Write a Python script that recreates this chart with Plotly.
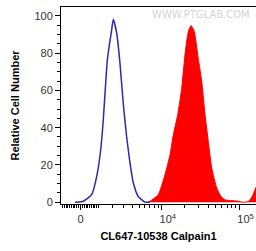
import math
import plotly.graph_objects as go

# Display scale: u = log-decade display units (10^4 -> 4, 10^5 -> 5); "0" sits at u0
u_zero = 2.956
x_range = [2.706, 5.212]
y_range = [-1, 104.8]

# Unstained control (blue line)
control_x = [2.886, 2.907, 2.992, 3.100, 3.165, 3.216, 3.249, 3.271, 3.301, 3.326, 3.352,
             3.378, 3.422, 3.464, 3.506, 3.550, 3.593, 3.635, 3.699, 3.785, 3.850]
control_y = [0, 0, 0.5, 4, 13.8, 28, 44, 58, 76, 84, 91,
             98.2, 90.7, 74.6, 53, 35, 21, 10.4, 3, 0, 0]

# CL647-10538 Calpain1 stained (red filled)
stained_x = [3.824, 3.850, 3.956, 4.042, 4.107, 4.149, 4.206, 4.257, 4.299, 4.342, 4.377,
             4.419, 4.470, 4.514, 4.557, 4.599, 4.643, 4.707, 4.762, 4.814, 4.904, 4.968,
             5.019, 5.071, 5.109, 5.135, 5.174, 5.212]
stained_y = [0, 0.5, 4, 14.7, 25.5, 36, 47, 61, 79, 91.6, 94.8,
             91.6, 77, 65, 47, 32.6, 18.3, 7.6, 3, 1.2, 0.8, 0.6,
             0.1, 0, 0.3, 1.2, 4, 8]

x_tick_vals = [u_zero, 4, 5]
x_tick_text = ["0", "\u00a0\u00a0\u00a0\u00a010<sup>4</sup>", "\u00a0\u00a0\u00a0\u00a010<sup>5</sup>"]
y_tick_vals = [0, 20, 40, 60, 80, 100]

# biexponential-like transform for minor tick placement
C = 1821.0
def biex(v):
    return u_zero + math.asinh(v / C) / math.log(10)

minor_raw = ([v for v in range(-1000, 1001, 100) if v != 0]
             + [k * 1000 for k in range(2, 10)]
             + [k * 10000 for k in range(2, 10)]
             + [200000])
minor_vals = [biex(v) for v in minor_raw]

font_family = "Arial, Liberation Sans, sans-serif"

fig = go.Figure()
fig.add_trace(go.Scatter(
    x=stained_x, y=stained_y, mode="lines", fill="tozeroy",
    line=dict(color="#ff0000", width=1, shape="spline", smoothing=0.5),
    fillcolor="#ff0000", hoverinfo="skip", showlegend=False))
fig.add_trace(go.Scatter(
    x=control_x, y=control_y, mode="lines",
    line=dict(color="#2b2bab", width=1.5, shape="spline", smoothing=0.5),
    hoverinfo="skip", showlegend=False))

fig.update_layout(
    width=256, height=251,
    margin=dict(l=61, r=0, t=7, b=47, autoexpand=False),
    paper_bgcolor="white", plot_bgcolor="white",
    font=dict(family=font_family, size=11, color="#222"),
    xaxis=dict(
        range=x_range, showgrid=False, zeroline=False, automargin=False,
        showline=True, linecolor="black", linewidth=1, mirror=True,
        tickmode="array", tickvals=x_tick_vals, ticktext=x_tick_text,
        ticks="outside", ticklen=5, tickcolor="black", tickwidth=1,
        tickfont=dict(size=11, color="#333"),
        minor=dict(tickmode="array", tickvals=minor_vals, ticks="outside",
                   ticklen=3, tickcolor="black", tickwidth=1, showgrid=False),
        title=dict(text="<b>CL647-10538 Calpain1</b>", font=dict(size=11, color="black"),
                   standoff=8),
    ),
    yaxis=dict(
        range=y_range, showgrid=False, zeroline=False, automargin=False,
        showline=True, linecolor="black", linewidth=1,
        tickmode="array", tickvals=y_tick_vals,
        ticks="outside", ticklen=5, tickcolor="black", tickwidth=1,
        tickfont=dict(size=11, color="#333"),
        minor=dict(dtick=5, tick0=0, ticks="outside", ticklen=3,
                   tickcolor="black", tickwidth=1, showgrid=False),
        title=dict(text="<b>Relative Cell Number</b>", font=dict(size=11, color="black"),
                   standoff=12),
    ),
    annotations=[dict(
        text="WWW.PTGLAB.COM", xref="paper", yref="paper", x=0.718, y=0.962,
        xanchor="center", yanchor="middle", showarrow=False,
        font=dict(family="DejaVu Sans", size=10, color="#d4d4d4"))],
)

fig.write_html(
    "out.html",
    config={"displayModeBar": False, "staticPlot": True},
    post_script="document.body.style.margin='0';document.body.style.padding='0';"
                "document.body.style.overflow='hidden';",
)
